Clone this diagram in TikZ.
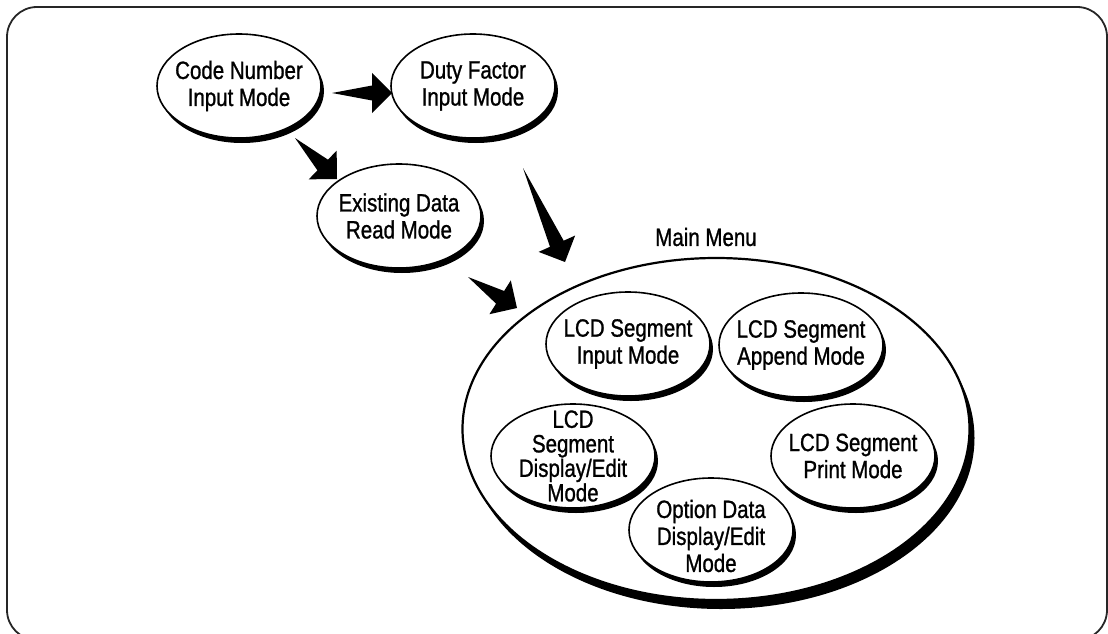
\documentclass[tikz,border=0pt]{standalone}
\usepackage{fontspec}
\setmainfont{Liberation Sans}[FakeStretch=0.82, FakeBold=1]
\usetikzlibrary{shapes.geometric,shadows,calc}
\tikzset{
  mode/.style={ellipse, draw=black, line width=1.6pt, fill=white,
    minimum width=164pt, minimum height=104pt, inner sep=0pt,
    drop shadow={shadow xshift=3pt, shadow yshift=-5pt, fill=black, opacity=1}},
  bigmode/.style={ellipse, draw=black, line width=2.2pt, fill=white,
    minimum width=507pt, minimum height=342pt, inner sep=0pt,
    drop shadow={shadow xshift=5pt, shadow yshift=-9pt, fill=black, opacity=1}},
  txt/.style={align=center, inner sep=0pt, font=\fontsize{25}{27}\selectfont},
  tighttxt/.style={align=center, inner sep=0pt, font=\fontsize{25}{24.5}\selectfont},
  dart/.style={to path={
    -- ($(\tikztotarget)!20pt!(\tikztostart)!7.5pt!90:(\tikztostart)$)
    -- ($(\tikztotarget)!20pt!(\tikztostart)!20pt!90:(\tikztostart)$)
    -- (\tikztotarget)
    -- ($(\tikztotarget)!20pt!(\tikztostart)!20pt!-90:(\tikztostart)$)
    -- ($(\tikztotarget)!20pt!(\tikztostart)!7.5pt!-90:(\tikztostart)$)
    -- cycle}},
  frame/.style={draw=black!85, line width=1.8pt, rounded corners=30pt}
}
\begin{document}
\begin{tikzpicture}[x=1pt, y=-1pt]
\useasboundingbox (0,0) rectangle (1108,634);
\draw[frame] (7,7) rectangle (1107,640);

% top-left modes
\node[mode] (code) at (239,86) {};
\node[txt] (codet) at (code) {Code Number\\Input Mode};
\node[mode] (duty) at (473,86) {};
\node[txt] (dutyt) at (duty) {Duty Factor\\Input Mode};
\node[mode] (exist) at (399,216) {};
\node[txt] (existt) at (exist) {Existing Data\\Read Mode};

% main menu
\node[txt] (mainlbl) at (706,237) {Main Menu};
\node[bigmode] (main) at (716,429) {};

\node[mode] (lin) at (628,344) {};
\node[txt] (lint) at (lin) {LCD Segment\\Input Mode};
\node[mode] (lapp) at (801,345) {};
\node[txt] (lappt) at (lapp) {LCD Segment\\Append Mode};
\node[mode] (ldisp) at (573,456) {};
\node[tighttxt] (ldispt) at (ldisp) {LCD\\Segment\\Display/Edit\\Mode};
\node[mode] (lprint) at (853,456) {};
\node[txt] (lprintt) at (lprint) {LCD Segment\\Print Mode};
\node[mode] (opt) at (711,530) {};
\node[txt] (optt) at ($(opt)+(0,6)$) {Option Data\\Display/Edit\\Mode};

% dart arrows
\coordinate (a1s) at (332,93);  \coordinate (a1e) at (392,93);
\coordinate (a2s) at (295,138); \coordinate (a2e) at (337,179);
\coordinate (a3s) at (523,168); \coordinate (a3e) at (565,262);
\coordinate (a4s) at (468,277); \coordinate (a4e) at (517,308);
\fill[black] (a1s) to[dart] (a1e);
\fill[black] (a2s) to[dart] (a2e);
\fill[black] (a3s) to[dart] (a3e);
\fill[black] (a4s) to[dart] (a4e);
\end{tikzpicture}
\end{document}
